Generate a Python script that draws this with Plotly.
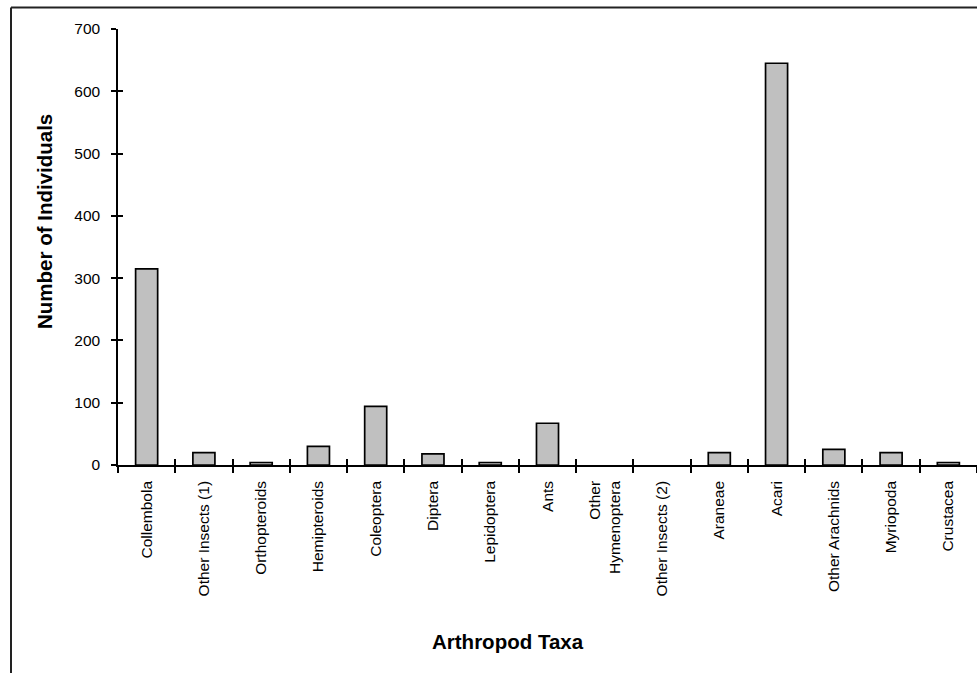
import plotly.graph_objects as go

taxa = ["Collembola", "Other Insects (1)", "Orthopteroids", "Hemipteroids", "Coleoptera",
        "Diptera", "Lepidoptera", "Ants", "Other<br>Hymenoptera", "Other Insects (2)",
        "Araneae", "Acari", "Other Arachnids", "Myriopoda", "Crustacea"]
individuals = [315, 20, 4, 30, 94, 18, 4, 67, 0, 0, 20, 645, 25, 20, 4]
y_ticks = [0, 100, 200, 300, 400, 500, 600, 700]

FONT = "Liberation Sans, Arial, sans-serif"
W, H = 977, 673
L, R, T, B = 118, 0, 29, 208
PW, PH = W - L - R, H - T - B

fig = go.Figure()
fig.add_trace(go.Bar(
    x=taxa, y=individuals,
    marker=dict(color="#C0C0C0",
                line=dict(color="black", width=[1.7 if v > 0 else 0 for v in individuals])),
    showlegend=False, hoverinfo="x+y",
))
# invisible companion trace used only to draw the inward half of the crossing ticks
fig.add_trace(go.Scatter(
    x=taxa, y=individuals, xaxis="x2", yaxis="y2", mode="markers",
    marker=dict(opacity=0), showlegend=False, hoverinfo="skip",
))

fig.update_layout(
    width=W, height=H,
    margin=dict(l=L, r=R, t=T, b=B),
    paper_bgcolor="white", plot_bgcolor="white",
    bargap=0.615,
    font=dict(family=FONT, color="black"),
    xaxis=dict(
        type="category", categoryorder="array", categoryarray=taxa,
        range=[-0.5, len(taxa) - 0.5],
        showline=True, linecolor="black", linewidth=1.5,
        ticks="outside", ticklen=6, tickwidth=1.5, tickcolor="black",
        tickson="boundaries", tickangle=-90,
        tickfont=dict(family=FONT, size=15.5, color="black"),
        ticklabelstandoff=8,
        showgrid=False, zeroline=False,
    ),
    xaxis2=dict(
        type="category", categoryorder="array", categoryarray=taxa,
        range=[-0.5, len(taxa) - 0.5],
        overlaying="x", anchor="y2",
        showline=False, ticks="inside", ticklen=6, tickwidth=1.5, tickcolor="black",
        tickson="boundaries", showticklabels=False, showgrid=False, zeroline=False,
    ),
    yaxis=dict(
        range=[0, 700], tickvals=y_ticks,
        showline=True, linecolor="black", linewidth=1.5,
        ticks="outside", ticklen=5, tickwidth=1.5, tickcolor="black",
        tickfont=dict(family=FONT, size=15.5, color="black"),
        ticklabelstandoff=8,
        showgrid=False, zeroline=False,
    ),
    yaxis2=dict(
        range=[0, 700], tickvals=y_ticks,
        overlaying="y", anchor="x2", side="left",
        showline=False, ticks="inside", ticklen=5, tickwidth=1.5, tickcolor="black",
        showticklabels=False, showgrid=False, zeroline=False,
    ),
    annotations=[
        dict(text="<b>Number of Individuals</b>", textangle=-90,
             xref="paper", yref="paper",
             x=(45 - L) / PW, y=1 - (222 - T) / PH,
             xanchor="center", yanchor="middle", showarrow=False,
             font=dict(family=FONT, size=20.5, color="black")),
        dict(text="<b>Arthropod Taxa</b>",
             xref="paper", yref="paper",
             x=(508 - L) / PW, y=-(641.5 - (H - B)) / PH,
             xanchor="center", yanchor="middle", showarrow=False,
             font=dict(family=FONT, size=20.5, color="black")),
    ],
    shapes=[
        dict(type="line", xref="paper", yref="paper",
             x0=(11 - L) / PW, x1=(11 - L) / PW,
             y0=-(H + 20 - (H - B)) / PH, y1=1 + (T - 7.5) / PH,
             line=dict(color="#222222", width=2)),
        dict(type="line", xref="paper", yref="paper",
             x0=(11 - L) / PW, x1=1.2,
             y0=1 + (T - 7.5) / PH, y1=1 + (T - 7.5) / PH,
             line=dict(color="#222222", width=2)),
    ],
)

fig.write_html("out.html", config={"displayModeBar": False},
               post_script="document.body.style.margin='0';")
